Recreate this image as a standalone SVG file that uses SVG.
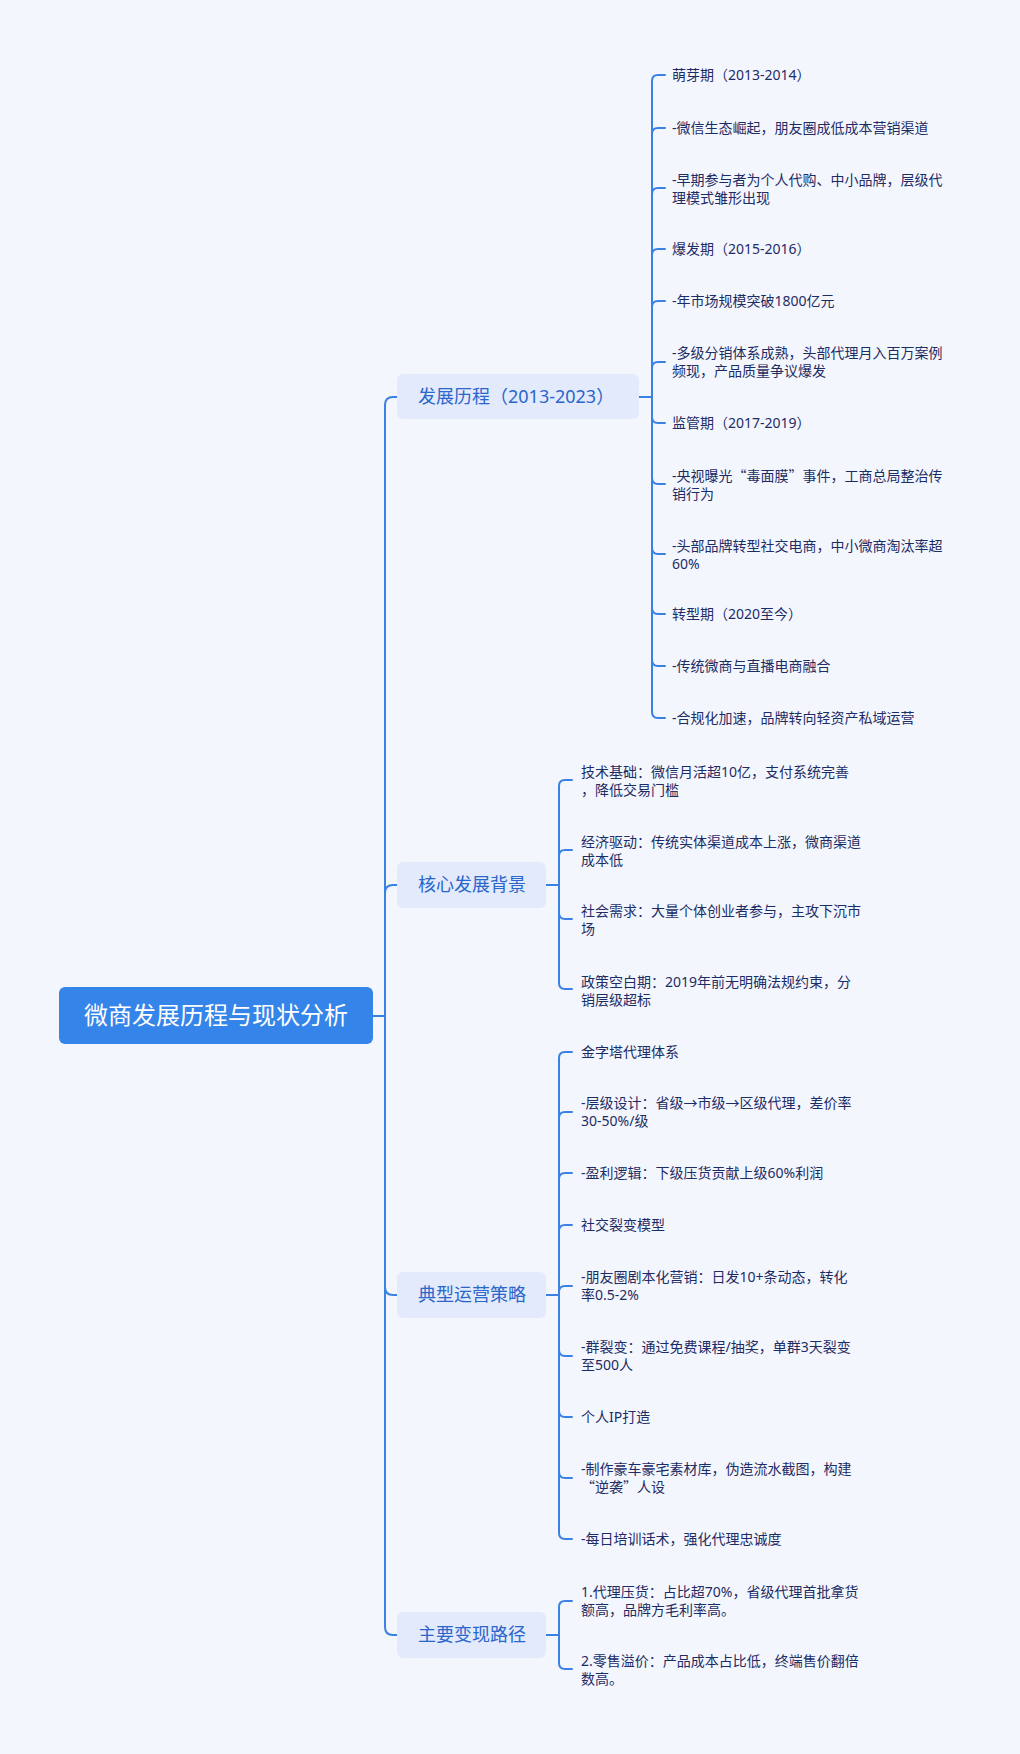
<svg xmlns="http://www.w3.org/2000/svg" width="1020" height="1754" viewBox="0 0 1020 1754">
<style>
text{font-family:"Noto Sans","Noto Sans CJK SC",sans-serif}
.cjk{font-family:"Noto Sans CJK SC",sans-serif}
.c{fill:none;stroke:#3A82E2;stroke-width:2;stroke-linecap:round;stroke-linejoin:round}
.root rect{fill:#3484EA}
.root text{fill:#FFFFFF;font-size:24px}
.l1 rect{fill:#E2EAFC}
.l1 text{fill:#2B66CB;font-size:18px}
.l2 text{fill:#1C2C64;font-size:14px}
</style>
<rect x="0" y="0" width="1020" height="1754" fill="#F4F6FE"/>
<g id="connectors">
<path class="c" d="M373,1016 H385 V405 Q385,397 393,397 H397"/>
<path class="c" d="M373,1016 H385 V893 Q385,885 393,885 H397"/>
<path class="c" d="M373,1016 H385 V1287 Q385,1295 393,1295 H397"/>
<path class="c" d="M373,1016 H385 V1627 Q385,1635 393,1635 H397"/>
<path class="c" d="M639,397 H652 V81 Q652,75 658,75 H665"/>
<path class="c" d="M639,397 H652 V134 Q652,128 658,128 H665"/>
<path class="c" d="M639,397 H652 V194 Q652,188 658,188 H665"/>
<path class="c" d="M639,397 H652 V255 Q652,249 658,249 H665"/>
<path class="c" d="M639,397 H652 V307 Q652,301 658,301 H665"/>
<path class="c" d="M639,397 H652 V368 Q652,362 658,362 H665"/>
<path class="c" d="M639,397 H652 V417 Q652,423 658,423 H665"/>
<path class="c" d="M639,397 H652 V478 Q652,484 658,484 H665"/>
<path class="c" d="M639,397 H652 V548 Q652,554 658,554 H665"/>
<path class="c" d="M639,397 H652 V608 Q652,614 658,614 H665"/>
<path class="c" d="M639,397 H652 V660 Q652,666 658,666 H665"/>
<path class="c" d="M639,397 H652 V712 Q652,718 658,718 H665"/>
<path class="c" d="M546,885 H559 V786 Q559,780 565,780 H572"/>
<path class="c" d="M546,885 H559 V856 Q559,850 565,850 H572"/>
<path class="c" d="M546,885 H559 V913 Q559,919 565,919 H572"/>
<path class="c" d="M546,885 H559 V983 Q559,989 565,989 H572"/>
<path class="c" d="M546,1295 H559 V1058 Q559,1052 565,1052 H572"/>
<path class="c" d="M546,1295 H559 V1118 Q559,1112 565,1112 H572"/>
<path class="c" d="M546,1295 H559 V1179 Q559,1173 565,1173 H572"/>
<path class="c" d="M546,1295 H559 V1231 Q559,1225 565,1225 H572"/>
<path class="c" d="M546,1295 H559 V1292 Q559,1286 565,1286 H572"/>
<path class="c" d="M546,1295 H559 V1350 Q559,1356 565,1356 H572"/>
<path class="c" d="M546,1295 H559 V1411 Q559,1417 565,1417 H572"/>
<path class="c" d="M546,1295 H559 V1472 Q559,1478 565,1478 H572"/>
<path class="c" d="M546,1295 H559 V1533 Q559,1539 565,1539 H572"/>
<path class="c" d="M546,1635 H559 V1607 Q559,1601 565,1601 H572"/>
<path class="c" d="M546,1635 H559 V1663 Q559,1669 565,1669 H572"/>
</g>
<g id="root" class="root">
<rect x="59" y="987" width="314" height="57" rx="6"/>
<text x="216" y="1024" text-anchor="middle">微商发展历程与现状分析</text>
</g>
<g id="n1" class="l1">
<rect x="397" y="374" width="242" height="45" rx="6"/>
<text x="418" y="403">发展历程（2013-2023）</text>
</g>
<g id="n2" class="l1">
<rect x="397" y="862" width="149" height="46" rx="6"/>
<text x="418" y="891">核心发展背景</text>
</g>
<g id="n3" class="l1">
<rect x="397" y="1272" width="149" height="46" rx="6"/>
<text x="418" y="1301">典型运营策略</text>
</g>
<g id="n4" class="l1">
<rect x="397" y="1612" width="149" height="46" rx="6"/>
<text x="418" y="1641">主要变现路径</text>
</g>
<g id="n1-items" class="l2">
<g id="n1a"><text x="672" y="80">萌芽期（2013-2014）</text></g>
<g id="n1b"><text x="672" y="133">-微信生态崛起，朋友圈成低成本营销渠道</text></g>
<g id="n1c"><text x="672" y="185">-早期参与者为个人代购、中小品牌，层级代</text><text x="672" y="202.5">理模式雏形出现</text></g>
<g id="n1d"><text x="672" y="254">爆发期（2015-2016）</text></g>
<g id="n1e"><text x="672" y="306">-年市场规模突破1800亿元</text></g>
<g id="n1f"><text x="672" y="358">-多级分销体系成熟，头部代理月入百万案例</text><text x="672" y="375.5">频现，产品质量争议爆发</text></g>
<g id="n1g"><text x="672" y="428">监管期（2017-2019）</text></g>
<g id="n1h"><text x="672" y="481">-央视曝光<tspan class="cjk">“</tspan>毒面膜<tspan class="cjk">”</tspan>事件，工商总局整治传</text><text x="672" y="498.5">销行为</text></g>
<g id="n1i"><text x="672" y="551">-头部品牌转型社交电商，中小微商淘汰率超</text><text x="672" y="568.5">60%</text></g>
<g id="n1j"><text x="672" y="619">转型期（2020至今）</text></g>
<g id="n1k"><text x="672" y="671">-传统微商与直播电商融合</text></g>
<g id="n1l"><text x="672" y="723">-合规化加速，品牌转向轻资产私域运营</text></g>
</g>
<g id="n2-items" class="l2">
<g id="n2a"><text x="581" y="777">技术基础：微信月活超10亿，支付系统完善</text><text x="581" y="794.5">，降低交易门槛</text></g>
<g id="n2b"><text x="581" y="847">经济驱动：传统实体渠道成本上涨，微商渠道</text><text x="581" y="864.5">成本低</text></g>
<g id="n2c"><text x="581" y="916">社会需求：大量个体创业者参与，主攻下沉市</text><text x="581" y="933.5">场</text></g>
<g id="n2d"><text x="581" y="987">政策空白期：2019年前无明确法规约束，分</text><text x="581" y="1004.5">销层级超标</text></g>
</g>
<g id="n3-items" class="l2">
<g id="n3a"><text x="581" y="1057">金字塔代理体系</text></g>
<g id="n3b"><text x="581" y="1108">-层级设计：省级→市级→区级代理，差价率</text><text x="581" y="1125.5">30-50%/级</text></g>
<g id="n3c"><text x="581" y="1178">-盈利逻辑：下级压货贡献上级60%利润</text></g>
<g id="n3d"><text x="581" y="1230">社交裂变模型</text></g>
<g id="n3e"><text x="581" y="1282">-朋友圈剧本化营销：日发10+条动态，转化</text><text x="581" y="1299.5">率0.5-2%</text></g>
<g id="n3f"><text x="581" y="1352">-群裂变：通过免费课程/抽奖，单群3天裂变</text><text x="581" y="1369.5">至500人</text></g>
<g id="n3g"><text x="581" y="1422">个人IP打造</text></g>
<g id="n3h"><text x="581" y="1474">-制作豪车豪宅素材库，伪造流水截图，构建</text><text x="581" y="1491.5"><tspan class="cjk">“</tspan>逆袭<tspan class="cjk">”</tspan>人设</text></g>
<g id="n3i"><text x="581" y="1544">-每日培训话术，强化代理忠诚度</text></g>
</g>
<g id="n4-items" class="l2">
<g id="n4a"><text x="581" y="1597">1.代理压货：占比超70%，省级代理首批拿货</text><text x="581" y="1614.5">额高，品牌方毛利率高。</text></g>
<g id="n4b"><text x="581" y="1666">2.零售溢价：产品成本占比低，终端售价翻倍</text><text x="581" y="1683.5">数高。</text></g>
</g>
</svg>
